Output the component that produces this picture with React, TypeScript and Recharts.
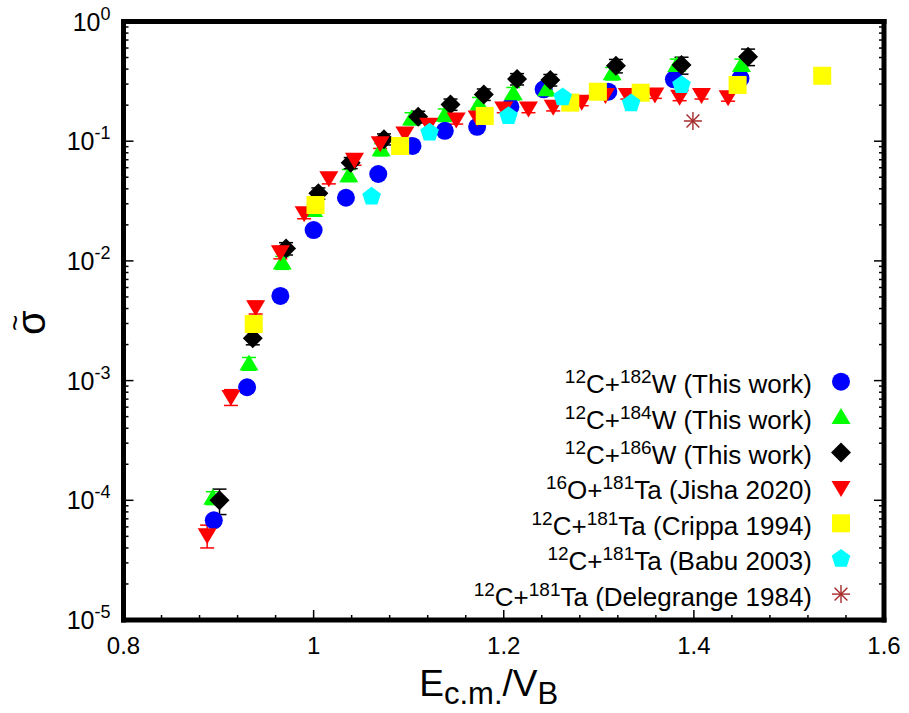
import React from 'react'
import { ScatterChart, Scatter, XAxis, YAxis, ErrorBar, Legend } from 'recharts'

const FONT = '"Liberation Sans", Arial, Helvetica, sans-serif'

// x = E_cm / V_B, y = reduced fusion cross section
const w182X = [0.895, 0.930, 0.965, 1.000, 1.034, 1.068, 1.104, 1.138, 1.172, 1.207, 1.242, 1.310, 1.379, 1.449]
const w182Y = [6.8e-5, 8.8e-4, 5.1e-3, 0.0181, 0.0337, 0.0532, 0.0912, 0.122, 0.132, 0.194, 0.271, 0.259, 0.329, 0.335]
const w182Err = [6e-6, 8e-5, 4e-4, 1.2e-3, 2e-3, 3e-3, 5e-3, 7e-3, 8e-3, 1.2e-2, 1.6e-2, 1.6e-2, 2e-2, 2e-2]

const w184X = [0.894, 0.932, 0.967, 1.000, 1.037, 1.071, 1.103, 1.138, 1.174, 1.210, 1.245, 1.314, 1.382, 1.450]
const w184Y = [1.05e-4, 1.39e-3, 9.7e-3, 0.0266, 0.052, 0.0855, 0.155, 0.166, 0.207, 0.251, 0.271, 0.369, 0.433, 0.433]
const w184Err = [1.3e-5, 1.7e-4, 1.2e-3, 3e-3, 6e-3, 1e-2, 1.8e-2, 2e-2, 2.5e-2, 3e-2, 3.2e-2, 4.4e-2, 5.2e-2, 5.2e-2]

const w186X = [0.901, 0.936, 0.971, 1.005, 1.039, 1.074, 1.110, 1.144, 1.179, 1.214, 1.249, 1.318, 1.387, 1.457]
const w186Y = [1.0e-4, 2.26e-3, 0.0127, 0.0367, 0.066, 0.104, 0.160, 0.203, 0.246, 0.331, 0.325, 0.427, 0.433, 0.508]
const w186Err = [2.4e-5, 2.7e-4, 1.5e-3, 4e-3, 7e-3, 1.1e-2, 1.8e-2, 2.2e-2, 2.7e-2, 3.6e-2, 3.6e-2, 5.5e-2, 7e-2, 8e-2]

const jishaX = [0.888, 0.913, 0.939, 0.965, 0.990, 1.016, 1.043, 1.070, 1.096, 1.121, 1.150, 1.172, 1.200, 1.226, 1.252, 1.282, 1.307, 1.330, 1.359, 1.385, 1.408, 1.436]
const jishaY = [5.1e-5, 7.3e-4, 4.1e-3, 0.0118, 0.025, 0.049, 0.070, 0.096, 0.116, 0.137, 0.152, 0.158, 0.188, 0.188, 0.194, 0.214, 0.243, 0.243, 0.246, 0.235, 0.243, 0.233]
const jishaErr = [1.1e-5, 1.1e-4, 5e-4, 1.4e-3, 2.5e-3, 5e-3, 7e-3, 9e-3, 1e-2, 1.2e-2, 1.3e-2, 1.3e-2, 1.5e-2, 1.5e-2, 1.5e-2, 1.6e-2, 1.8e-2, 1.8e-2, 1.8e-2, 1.7e-2, 1.8e-2, 1.7e-2]

const crippaX = [0.937, 1.002, 1.091, 1.180, 1.270, 1.299, 1.344, 1.446, 1.535]
const crippaY = [2.97e-3, 0.0293, 0.0912, 0.1625, 0.210, 0.259, 0.254, 0.295, 0.352]

const babuX = [1.061, 1.122, 1.205, 1.262, 1.334, 1.387]
const babuY = [0.0344, 0.118, 0.1625, 0.233, 0.207, 0.295]

const delegrangeX = [1.399]
const delegrangeY = [0.1475]

const xMajor = [0.8, 1.0, 1.2, 1.4, 1.6]
const xMinor = [0.84, 0.88, 0.92, 0.96, 1.04, 1.08, 1.12, 1.16, 1.24, 1.28, 1.32, 1.36, 1.44, 1.48, 1.52, 1.56]
const yMajor = [1e-5, 1e-4, 1e-3, 1e-2, 1e-1, 1]
const yMantissas = [2, 3, 4, 5, 6, 7, 8, 9]
const yMinor = yMajor.slice(0, -1).flatMap((d) => yMantissas.map((m) => m * d))
const xTicks = [...xMajor, ...xMinor].sort((a, b) => a - b)
const yTicks = [...yMajor, ...yMinor].sort((a, b) => a - b)

type Kind = 'circle' | 'up' | 'diamond' | 'down' | 'square' | 'pentagon' | 'star'
type Part = [string, boolean] // text, is superscript

const zip = (xs: number[], ys: number[], es?: number[]) =>
  xs.map((x, i) => ({ x, y: ys[i], err: es ? es[i] : undefined }))

const series: { key: string; kind: Kind; color: string; label: Part[]; data: any[]; errs: boolean }[] = [
  { key: 'w182', kind: 'circle', color: '#0000ff', label: [['12', true], ['C+', false], ['182', true], ['W (This work)', false]], data: zip(w182X, w182Y, w182Err), errs: true },
  { key: 'w184', kind: 'up', color: '#00ff00', label: [['12', true], ['C+', false], ['184', true], ['W (This work)', false]], data: zip(w184X, w184Y, w184Err), errs: true },
  { key: 'w186', kind: 'diamond', color: '#000000', label: [['12', true], ['C+', false], ['186', true], ['W (This work)', false]], data: zip(w186X, w186Y, w186Err), errs: true },
  { key: 'jisha', kind: 'down', color: '#ff0000', label: [['16', true], ['O+', false], ['181', true], ['Ta (Jisha 2020)', false]], data: zip(jishaX, jishaY, jishaErr), errs: true },
  { key: 'crippa', kind: 'square', color: '#ffff00', label: [['12', true], ['C+', false], ['181', true], ['Ta (Crippa 1994)', false]], data: zip(crippaX, crippaY), errs: false },
  { key: 'babu', kind: 'pentagon', color: '#00ffff', label: [['12', true], ['C+', false], ['181', true], ['Ta (Babu 2003)', false]], data: zip(babuX, babuY), errs: false },
  { key: 'deleg', kind: 'star', color: '#a52a2a', label: [['12', true], ['C+', false], ['181', true], ['Ta (Delegrange 1984)', false]], data: zip(delegrangeX, delegrangeY), errs: false },
]

function Marker({ kind, cx, cy, color }: { kind: Kind; cx?: number; cy?: number; color: string }) {
  if (cx == null || cy == null || isNaN(cx) || isNaN(cy)) return null
  switch (kind) {
    case 'circle':
      return <circle cx={cx} cy={cy} r={9} fill={color} />
    case 'up':
      return <polygon points={`${cx},${cy - 9} ${cx + 9.5},${cy + 7} ${cx - 9.5},${cy + 7}`} fill={color} />
    case 'down':
      return <polygon points={`${cx - 9.5},${cy - 7} ${cx + 9.5},${cy - 7} ${cx},${cy + 9}`} fill={color} />
    case 'diamond':
      return <polygon points={`${cx},${cy - 10} ${cx + 10},${cy} ${cx},${cy + 10} ${cx - 10},${cy}`} fill={color} />
    case 'square':
      return <rect x={cx - 9} y={cy - 9} width={18} height={18} fill={color} />
    case 'pentagon': {
      const pts = [0, 1, 2, 3, 4].map((i) => {
        const a = ((-90 + 72 * i) * Math.PI) / 180
        return `${cx + 9.8 * Math.cos(a)},${cy + 9.8 * Math.sin(a)}`
      })
      return <polygon points={pts.join(' ')} fill={color} />
    }
    case 'star':
      return (
        <g stroke={color} strokeWidth={1.4}>
          <line x1={cx - 9} y1={cy} x2={cx + 9} y2={cy} />
          <line x1={cx} y1={cy - 9} x2={cx} y2={cy + 9} />
          <line x1={cx - 6.4} y1={cy - 6.4} x2={cx + 6.4} y2={cy + 6.4} />
          <line x1={cx - 6.4} y1={cy + 6.4} x2={cx + 6.4} y2={cy - 6.4} />
        </g>
      )
  }
  return null
}

const near = (arr: number[], v: number) => arr.some((m) => Math.abs(m - v) <= 1e-6 * Math.abs(m))

function XTick(props: any) {
  const { x, y, payload, side } = props
  const major = near(xMajor, payload.value)
  const len = major ? 10 : 5
  const dir = side === 'top' ? 1 : -1
  return (
    <g>
      <line x1={x} x2={x} y1={y} y2={y + dir * len} stroke="#000" strokeWidth={1.5} />
      {side === 'bottom' && major && (
        <text x={x} y={y + 34} textAnchor="middle" fontSize={24} fontFamily={FONT} fill="#000">
          {String(payload.value)}
        </text>
      )}
    </g>
  )
}

function YTick(props: any) {
  const { x, y, payload, side } = props
  const major = near(yMajor, payload.value)
  const len = major ? 10 : 5
  const dir = side === 'left' ? 1 : -1
  const exp = Math.round(Math.log10(payload.value))
  return (
    <g>
      <line x1={x} x2={x + dir * len} y1={y} y2={y} stroke="#000" strokeWidth={1.5} />
      {side === 'left' && major && (
        <text x={x - 13} y={y + 9} textAnchor="end" fontSize={25} fontFamily={FONT} fill="#000">
          10<tspan fontSize={18} dy={-11}>{exp}</tspan>
        </text>
      )}
    </g>
  )
}

function XTitle(props: any) {
  const vb = props.viewBox || { x: 123.5, y: 620, width: 760.5 }
  return (
    <text x={vb.x + vb.width / 2 - 15} y={vb.y + 76} textAnchor="middle" fontSize={37} fontFamily={FONT} fill="#000">
      E<tspan fontSize={31} dy={8}>c.m.</tspan>
      <tspan fontSize={37} dy={-8}>/V</tspan>
      <tspan fontSize={31} dy={8}>B</tspan>
    </text>
  )
}

function YTitle(props: any) {
  const vb = props.viewBox || { x: 13.5, y: 21.5, height: 598.5 }
  const cx = vb.x + 18
  const cy = vb.y + vb.height / 2 + 2
  return (
    <g transform={`translate(${cx},${cy}) rotate(-90)`} fontFamily={FONT} fill="#000">
      <text x={0} y={13} textAnchor="middle" fontSize={40}>σ</text>
      <text x={0} y={-7} textAnchor="middle" fontSize={28}>~</text>
    </g>
  )
}

const LEG_LEFT = 400
const LEG_TOP = 360

function LegendBox() {
  return (
    <svg width={480} height={260} style={{ display: 'block' }}>
      {series.map((s, k) => {
        const cy = 21.7 + 35.4 * k
        let prevSup = false
        return (
          <g key={s.key}>
            <text x={412} y={cy + 11.5} textAnchor="end" fontSize={26} fontFamily={FONT} fill="#000">
              {s.label.map(([t, sup], i) => {
                const dy = sup && !prevSup ? -10 : !sup && prevSup ? 10 : 0
                prevSup = sup
                return (
                  <tspan key={i} fontSize={sup ? 19 : 26} dy={dy}>
                    {t}
                  </tspan>
                )
              })}
            </text>
            <Marker kind={s.kind} cx={441} cy={cy} color={s.color} />
          </g>
        )
      })}
    </svg>
  )
}

const frameLine = { stroke: '#000', strokeWidth: 5, strokeLinecap: 'square' as const }

export default function App() {
  return (
    <div style={{ position: 'absolute', left: 0, top: 0, width: 909, height: 713, background: '#fff' }}>
      <ScatterChart width={909} height={713} margin={{ top: 11.5, right: 15, bottom: 13, left: 13.5 }}>
        <XAxis
          xAxisId="b"
          type="number"
          dataKey="x"
          domain={[0.8, 1.6]}
          allowDataOverflow
          ticks={xTicks}
          interval={0}
          height={80}
          tickSize={0}
          tickMargin={0}
          tickLine={false}
          axisLine={frameLine}
          tick={(p: any) => <XTick {...p} side="bottom" />}
          label={(p: any) => <XTitle {...p} />}
        />
        <XAxis
          xAxisId="t"
          orientation="top"
          type="number"
          domain={[0.8, 1.6]}
          allowDataOverflow
          ticks={xTicks}
          interval={0}
          height={10}
          tickSize={0}
          tickMargin={0}
          tickLine={false}
          axisLine={frameLine}
          tick={(p: any) => <XTick {...p} side="top" />}
        />
        <YAxis
          yAxisId="l"
          type="number"
          dataKey="y"
          scale="log"
          domain={[1e-5, 1]}
          allowDataOverflow
          ticks={yTicks}
          interval={0}
          width={110}
          tickSize={0}
          tickMargin={0}
          tickLine={false}
          axisLine={frameLine}
          tick={(p: any) => <YTick {...p} side="left" />}
          label={(p: any) => <YTitle {...p} />}
        />
        <YAxis
          yAxisId="r"
          orientation="right"
          type="number"
          scale="log"
          domain={[1e-5, 1]}
          allowDataOverflow
          ticks={yTicks}
          interval={0}
          width={10}
          tickSize={0}
          tickMargin={0}
          tickLine={false}
          axisLine={frameLine}
          tick={(p: any) => <YTick {...p} side="right" />}
        />
        {series.map((s) => (
          <Scatter
            key={s.key}
            name={s.key}
            xAxisId="b"
            yAxisId="l"
            data={s.data}
            isAnimationActive={false}
            shape={(p: any) => <Marker kind={s.kind} cx={p.cx} cy={p.cy} color={s.color} />}
          >
            {s.errs && (
              <ErrorBar dataKey="err" direction="y" width={7} strokeWidth={1.5} stroke={s.color} isAnimationActive={false} />
            )}
          </Scatter>
        ))}
        <Legend
          layout="vertical"
          align="center"
          verticalAlign="middle"
          wrapperStyle={{ position: 'absolute', left: LEG_LEFT, top: LEG_TOP, width: 480, height: 260 }}
          content={() => <LegendBox />}
        />
      </ScatterChart>
    </div>
  )
}
